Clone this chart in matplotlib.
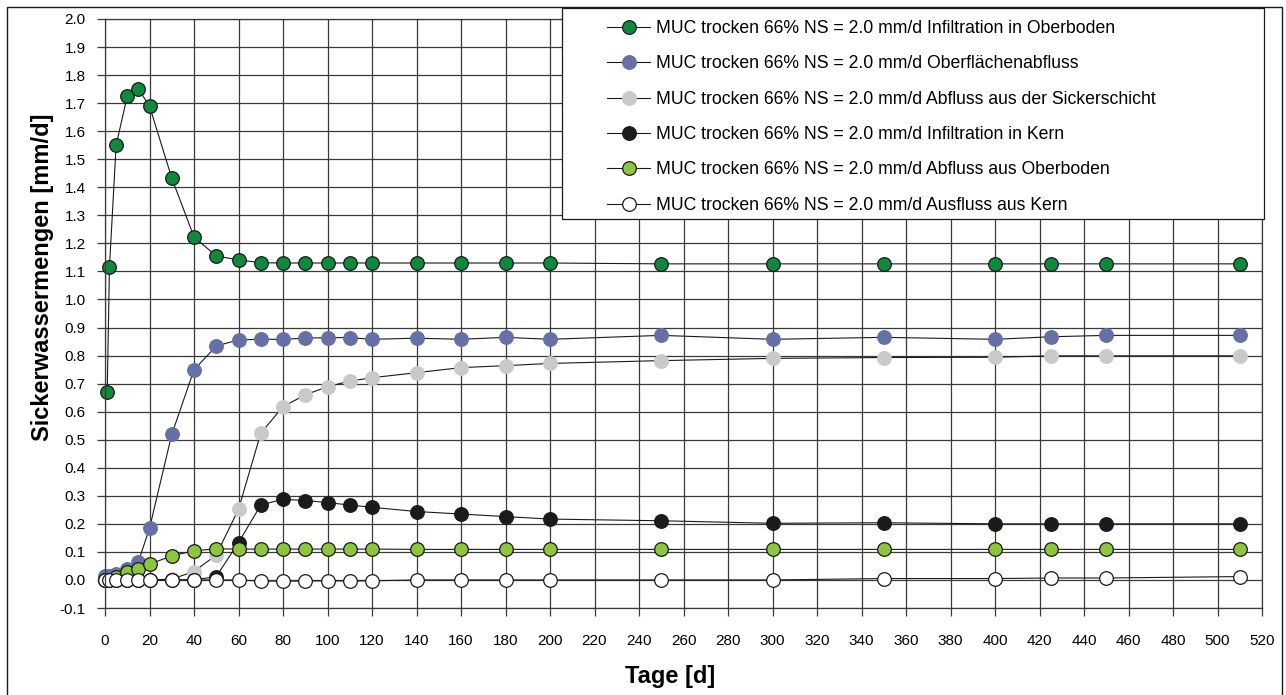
import matplotlib
matplotlib.use("Agg")
import matplotlib.pyplot as plt
from matplotlib.patches import Rectangle

plt.rcParams['font.family'] = ['Liberation Sans', 'DejaVu Sans']

# days
tage = [0, 2, 5, 10, 15, 20, 30, 40, 50, 60, 70, 80, 90, 100, 110, 120,
        140, 160, 180, 200, 250, 300, 350, 400, 425, 450, 510]
tage_inf = [1, 2, 5, 10, 15, 20, 30, 40, 50, 60, 70, 80, 90, 100, 110, 120,
            140, 160, 180, 200, 250, 300, 350, 400, 425, 450, 510]

infiltration_oberboden = [0.67, 1.115, 1.55, 1.725, 1.75, 1.69, 1.433, 1.223, 1.155, 1.141, 1.131,
                          1.13, 1.13, 1.13, 1.13, 1.13, 1.13, 1.13, 1.13, 1.13,
                          1.127, 1.127, 1.127, 1.127, 1.127, 1.127, 1.127]
oberflaechenabfluss = [0.015, 0.015, 0.022, 0.04, 0.065, 0.184, 0.519, 0.749, 0.834, 0.856, 0.858,
                       0.858, 0.862, 0.864, 0.864, 0.858, 0.862, 0.858, 0.865, 0.858,
                       0.872, 0.858, 0.865, 0.858, 0.867, 0.872, 0.872]
abfluss_sickerschicht = [0.0, 0.0, 0.0, 0.0, 0.0, 0.0, 0.003, 0.030, 0.089, 0.252, 0.523,
                         0.618, 0.660, 0.689, 0.709, 0.721, 0.739, 0.757, 0.764, 0.772,
                         0.782, 0.790, 0.793, 0.794, 0.799, 0.799, 0.799]
infiltration_kern = [0.0, 0.0, 0.0, 0.0, 0.0, 0.0, 0.0, 0.0, 0.012, 0.133, 0.267,
                     0.288, 0.283, 0.276, 0.267, 0.259, 0.244, 0.235, 0.226, 0.217,
                     0.211, 0.202, 0.204, 0.200, 0.200, 0.200, 0.200]
abfluss_oberboden = [0.0, 0.0, 0.01, 0.028, 0.04, 0.056, 0.086, 0.104, 0.111, 0.110, 0.110,
                     0.110, 0.110, 0.110, 0.110, 0.110, 0.109, 0.109, 0.109, 0.109,
                     0.109, 0.109, 0.109, 0.109, 0.109, 0.109, 0.109]
ausfluss_kern = [0.0, 0.0, 0.0, 0.0, 0.0, 0.0, 0.0, 0.0, 0.0, 0.0, -0.004,
                 -0.004, -0.004, -0.003, -0.004, -0.003, 0.0, 0.0, 0.0, 0.0,
                 0.0, 0.0, 0.005, 0.005, 0.007, 0.007, 0.012]

prefix = "MUC trocken 66% NS = 2.0 mm/d "
series = [
    (tage_inf, infiltration_oberboden, "Infiltration in Oberboden", "#0f8a3c", "#1a1a1a"),
    (tage, oberflaechenabfluss, "Oberflächenabfluss", "#6570a6", "#6570a6"),
    (tage, abfluss_sickerschicht, "Abfluss aus der Sickerschicht", "#c8c9cb", "#c8c9cb"),
    (tage, infiltration_kern, "Infiltration in Kern", "#1c1a1a", "#1c1a1a"),
    (tage, abfluss_oberboden, "Abfluss aus Oberboden", "#8cc63f", "#1a1a1a"),
    (tage, ausfluss_kern, "Ausfluss aus Kern", "#ffffff", "#1a1a1a"),
]

W, H = 1286, 695
fig = plt.figure(figsize=(W / 100, H / 100), dpi=100)
ax = fig.add_axes([105 / W, 1 - 608 / H, (1262 - 105) / W, (608 - 19) / H])

for x, y, name, fc, ec in series:
    ax.plot(x, y, color="#1a1a1a", lw=0.8, marker="o", ms=9.8,
            markerfacecolor=fc, markeredgecolor=ec, markeredgewidth=0.9,
            label=prefix + name, clip_on=False)

ax.set_xlim(0, 520)
ax.set_ylim(-0.1, 2.0)
ax.set_xticks(range(0, 521, 20))
ax.set_yticks([i / 10 for i in range(-1, 21)])
ax.set_yticklabels([f"{i / 10:.1f}" for i in range(-1, 21)])
ax.grid(True, color="#3a3a3a", lw=0.9)
ax.set_axisbelow(True)
for s in ax.spines.values():
    s.set_color("#3a3a3a")
    s.set_linewidth(0.9)
ax.tick_params(direction="out", length=6, width=0.9, color="#3a3a3a", labelsize=11)
ax.tick_params(axis="x", pad=13)
ax.tick_params(axis="y", pad=8)

ax.set_xlabel("Tage [d]", fontsize=17, fontweight="bold")
ax.set_ylabel("Sickerwassermengen [mm/d]", fontsize=17, fontweight="bold")
ax.xaxis.set_label_coords((670 - 105) / 1157, -(665 - 608) / 589)
ax.yaxis.set_label_coords(-(105 - 54) / 1157, (608 - 277) / 589)

# legend without frame, frame drawn separately
handles, labels = ax.get_legend_handles_labels()
leg = fig.legend(handles, labels, loc="upper left", bbox_to_anchor=(607 / W, 1 - 20 / H),
                 fontsize=12.7, frameon=False, handlelength=2.44, labelspacing=1.04,
                 borderpad=0, handletextpad=0.34, borderaxespad=0)
leg.set_zorder(5)
fig.patches.append(Rectangle((562 / W, 1 - 219 / H), (1264 - 562) / W, (219 - 8) / H,
                             transform=fig.transFigure, facecolor="white",
                             edgecolor="#1a1a1a", lw=0.9, zorder=4))
fig.patches.append(Rectangle((7 / W, -0.02), (1282 - 7) / W, 1.02 - 7 / H,
                             transform=fig.transFigure, fill=False, edgecolor="#1a1a1a", lw=1))

fig.savefig("out.png", dpi=100)
